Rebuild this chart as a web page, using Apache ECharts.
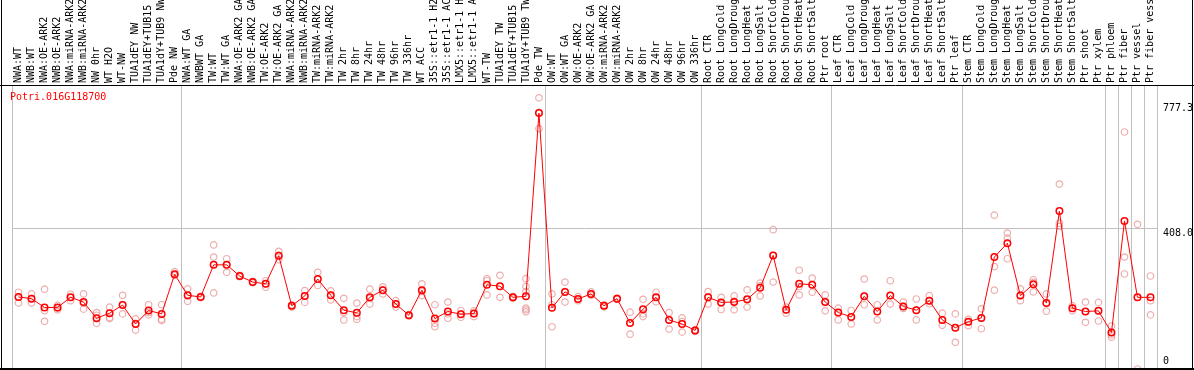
<!DOCTYPE html>
<html><head><meta charset="utf-8">
<script src="https://cdn.jsdelivr.net/npm/echarts@6/dist/echarts.min.js"></script>
<style>html,body{margin:0;padding:0;background:#fff}#c{width:1194px;height:370px}</style>
</head><body><div id="c"></div>
<script>
const title = 'Potri.016G118700';
const categories = [
 'NWA:WT','NWB:WT','NWA:OE-ARK2','NWB:OE-ARK2','NWA:miRNA-ARK2','NWB:miRNA-ARK2','NW 0hr','WT H2O','WT-NW','TUA1dEY NW','TUA1dEY+TUB15 NW','TUA1dY+TUB9 NW','Pde NW',
 'NWA:WT GA','NWBWT GA','TW:WT','TW:WT GA','NWA:OE-ARK2 GA','NWB:OE-ARK2 GA','TW:OE-ARK2','TW:OE-ARK2 GA','NWA:miRNA-ARK2 GA','NWB:miRNA-ARK2 GA','TW:miRNA-ARK2','TW:miRNA-ARK2 GA',
 'TW 2hr','TW 8hr','TW 24hr','TW 48hr','TW 96hr','TW 336hr','WT ACC','35S::etr1-1 H2O','35S::etr1-1 ACC','LMX5::etr1-1 H2O','LMX5::etr1-1 ACC','WT-TW','TUA1dEY TW','TUA1dEY+TUB15 TW','TUA1dY+TUB9 TW','Pde TW',
 'OW:WT','OW:WT GA','OW:OE-ARK2','OW:OE-ARK2 GA','OW:miRNA-ARK2','OW:miRNA-ARK2 GA','OW 2hr','OW 8hr','OW 24hr','OW 48hr','OW 96hr','OW 336hr',
 'Root CTR','Root LongCold','Root LongDrought','Root LongHeat','Root LongSalt','Root ShortCold','Root ShortDrought','Root ShortHeat','Root ShortSalt','Ptr root',
 'Leaf CTR','Leaf LongCold','Leaf LongDrought','Leaf LongHeat','Leaf LongSalt','Leaf ShortCold','Leaf ShortDrought','Leaf ShortHeat','Leaf ShortSalt','Ptr leaf',
 'Stem CTR','Stem LongCold','Stem LongDrought','Stem LongHeat','Stem LongSalt','Stem ShortCold','Stem ShortDrought','Stem ShortHeat','Stem ShortSalt',
 'Ptr shoot','Ptr xylem','Ptr phloem','Ptr fiber','Ptr vessel','Ptr fiber vessel'
];
const means = [
 205,200,174,174,204,190,142,157,181,125,
 165,155,272,210,205,300,300,267,249,244,
 327,179,208,258,210,166,158,204,225,184,
 151,225,141,162,154,156,241,237,204,207,
 749,173,220,199,214,179,200,128,169,204,
 137,125,106,204,189,190,198,232,328,167,
 244,241,190,159,146,207,162,209,177,166,
 194,137,114,132,143,323,364,209,243,187,
 459,172,162,164,100,430,204,204
];
const replicates = [
 [219,205,187],[214,200,187],[228,164,133],[180,172,167],[213,204,194],[214,187,169],[159,151,127],[175,144,141],[210,182,155],[140,127,107],
 [182,159,152],[182,139,135],[280,272,269],[229,208,192],[207,205,203],[359,323,217],[318,300,278],[269,267,265],[251,249,247],[253,244,234],
 [340,328,315],[182,179,175],[224,208,189],[278,258,239],[223,210,196],[201,159,137],[187,147,139],[228,201,184],[235,226,214],[194,184,175],
 [153,151,149],[244,221,209],[182,127,117],[190,155,142],[165,155,145],[164,155,147],[259,253,211],[269,236,204],[206,204,201],[259,236,221,172,167,161],
 [794,751,703],[214,182,117],[249,221,190],[206,199,194],[220,214,210],[182,179,176],[202,200,198],[160,128,95],[198,155,147],[219,204,191],
 [159,137,110],[143,132,101],[108,106,103],[221,206,184],[204,189,168],[208,193,167],[226,196,175],[246,238,208],[404,328,249],[175,167,157],
 [284,236,211],[261,241,219],[211,190,164],[172,159,137],[165,146,125],[258,207,182],[182,162,137],[253,209,184],[190,177,171],[199,166,137],
 [209,194,185],[157,137,121],[155,114,71],[139,130,120],[170,143,111],[447,295,225],[394,379,318],[229,209,194],[256,248,220],[214,187,163],
 [539,423,414],[179,171,164],[190,162,130],[189,164,134],[119,93,86],[693,323,273],[420,204,-8],[267,194,152]
];
const yLabelValues = [0, 408.0, 777.3];
const yGridValues = [408.0];
const groupStarts = [0, 13, 41, 53, 63, 73, 84, 85, 86, 87];

const FONT = 'DejaVu Sans Mono';
const repData = [];
replicates.forEach((arr, i) => arr.forEach(v => repData.push([i, v])));
const sepFn = (idx) => groupStarts.indexOf(idx) >= 0;

const chart = echarts.init(document.getElementById('c'), null, {renderer: 'canvas'});
chart.setOption({
  animation: false,
  backgroundColor: '#fff',
  title: {text: title, left: 10, top: 92, padding: 0,
    textStyle: {color: '#ff0000', fontSize: 10, fontWeight: 'normal', fontFamily: FONT}},
  grid: {left: 12, right: 37, top: 85, bottom: 0, containLabel: false, outerBoundsMode: 'none'},
  xAxis: {
    type: 'category', data: categories, position: 'top', boundaryGap: true,
    axisLine: {show: false},
    axisTick: {show: true, length: 85, interval: sepFn, lineStyle: {color: '#c0c0c0', width: 1}},
    splitLine: {show: true, interval: sepFn, lineStyle: {color: '#c0c0c0', width: 1}},
    axisLabel: {interval: 0, rotate: 90, margin: 2, fontSize: 10, fontFamily: FONT, color: '#000'}
  },
  yAxis: {
    type: 'value', position: 'right', min: -11, max: 832,
    axisLine: {show: false},
    axisTick: {show: false, customValues: yGridValues},
    splitLine: {show: true, lineStyle: {color: '#c0c0c0', width: 1}},
    axisLabel: {customValues: yLabelValues, margin: 6, fontSize: 10, fontFamily: FONT, color: '#000',
      verticalAlign: 'top', verticalAlignMinLabel: 'bottom',
      formatter: v => v === 0 ? '0' : v.toFixed(1)}
  },
  graphic: [
    {type: 'line', silent: true, z: 100, shape: {x1: 1.5, y1: 0, x2: 1.5, y2: 370}, style: {stroke: '#000', lineWidth: 1}},
    {type: 'line', silent: true, z: 100, shape: {x1: 1192.5, y1: 0, x2: 1192.5, y2: 370}, style: {stroke: '#000', lineWidth: 1}},
    {type: 'line', silent: true, z: 100, shape: {x1: 0, y1: 85.5, x2: 1194, y2: 85.5}, style: {stroke: '#000', lineWidth: 1}},
    {type: 'line', silent: true, z: 100, shape: {x1: 0, y1: 369, x2: 1194, y2: 369}, style: {stroke: '#000', lineWidth: 2}}
  ],
  series: [
    {type: 'scatter', data: repData, symbol: 'circle', symbolSize: 6.5, z: 2, silent: true,
      itemStyle: {color: 'rgba(0,0,0,0)', borderColor: '#e89898', borderWidth: 1.2}},
    {type: 'line', data: means, symbol: 'circle', symbolSize: 6.5, showSymbol: true, showAllSymbol: true, z: 3, silent: true,
      lineStyle: {color: '#ff0000', width: 1},
      itemStyle: {color: 'rgba(0,0,0,0)', borderColor: '#ff0000', borderWidth: 1.5}}
  ]
});
</script>
</body></html>
